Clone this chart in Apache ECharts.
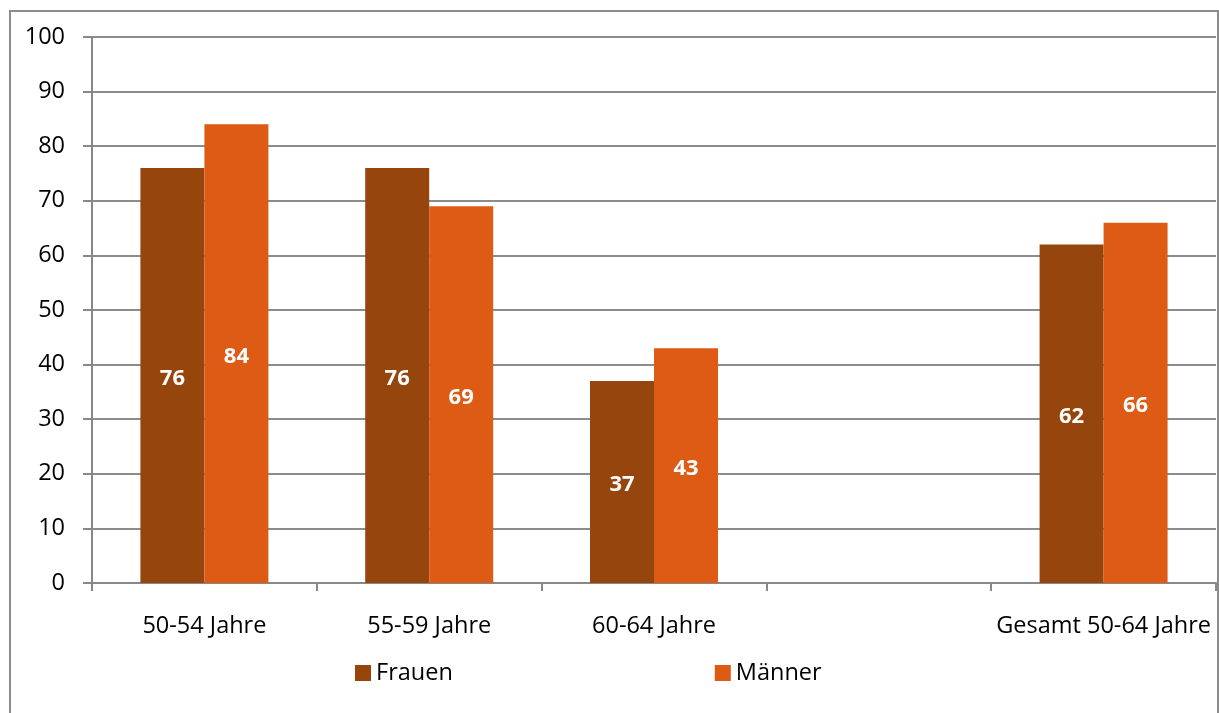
<!DOCTYPE html>
<html>
<head>
<meta charset="utf-8">
<script src="https://cdn.jsdelivr.net/npm/echarts@6/dist/echarts.min.js"></script>
<style>
html,body{margin:0;padding:0;background:#fff;}
#c{width:1219px;height:713px;}
</style>
</head>
<body>
<div id="c"></div>
<script>
const categories = ["50-54 Jahre", "55-59 Jahre", "60-64 Jahre", "", "Gesamt 50-64 Jahre"];
const frauen = [76, 76, 37, null, 62];
const maenner = [84, 69, 43, null, 66];
const yTicks = { min: 0, max: 100, interval: 10 };

const FONT = "'Open Sans', 'Noto Sans', sans-serif";
const chart = echarts.init(document.getElementById('c'), null, { renderer: 'canvas' });
const labelCfg = {
  show: true, position: 'inside', color: '#ffffff', fontWeight: 'bold',
  fontSize: 22, fontFamily: FONT, offset: [0, 3]
};
chart.setOption({
  animation: false,
  backgroundColor: '#ffffff',
  graphic: [{
    type: 'rect', shape: { x: 10, y: 11, width: 1208, height: 720 },
    style: { fill: 'none', stroke: '#8c8c8c', lineWidth: 2 }, silent: true
  }],
  grid: { left: 92, right: 3, top: 37, bottom: 130, containLabel: false },
  legend: {
    bottom: 23, left: 350,
    itemWidth: 16, itemHeight: 16, itemGap: 262,
    icon: 'rect',
    textStyle: { fontSize: 23.5, fontFamily: FONT, color: '#000' },
    data: ['Frauen', 'Männer']
  },
  xAxis: {
    type: 'category', data: categories,
    axisLine: { lineStyle: { color: '#888888', width: 2 } },
    axisTick: { show: true, alignWithLabel: false, length: 8, lineStyle: { color: '#888888', width: 2 } },
    axisLabel: { color: '#000', fontSize: 23.5, fontFamily: FONT, margin: 31, interval: 0 }
  },
  yAxis: {
    type: 'value', min: yTicks.min, max: yTicks.max, interval: yTicks.interval,
    axisLine: { show: true, lineStyle: { color: '#888888', width: 2 } },
    axisTick: { show: true, length: 9, lineStyle: { color: '#888888', width: 2 } },
    splitLine: { show: true, lineStyle: { color: '#8c8c8c', width: 2 } },
    axisLabel: { color: '#000', fontSize: 23.5, fontFamily: FONT, margin: 27 }
  },
  series: [
    { name: 'Frauen', type: 'bar', data: frauen, barWidth: 64, barGap: '0%',
      itemStyle: { color: '#96450C' }, label: labelCfg },
    { name: 'Männer', type: 'bar', data: maenner, barWidth: 64, barGap: '0%',
      itemStyle: { color: '#DE5B16' }, label: labelCfg }
  ]
});
</script>
</body>
</html>
